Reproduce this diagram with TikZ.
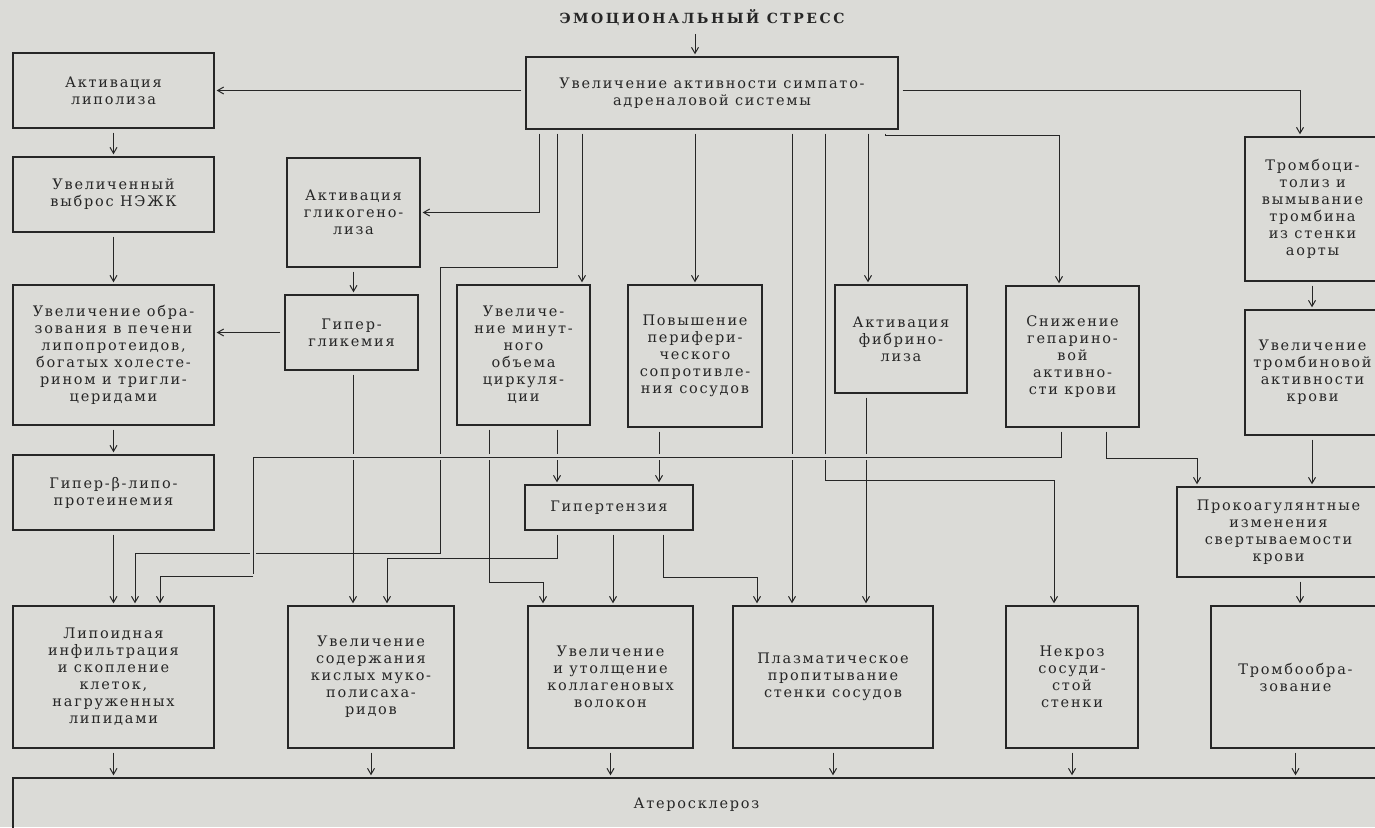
\documentclass[tikz,border=0pt]{standalone}
\usepackage{fontspec}
\setmainfont{DejaVu Serif}[LetterSpace=12]
\usetikzlibrary{arrows.meta}
\definecolor{paper}{RGB}{219,219,215}
\definecolor{ink}{RGB}{38,38,38}

\begin{document}
\begin{tikzpicture}[x=1pt,y=-1pt,color=ink,line width=1pt,
  >={Straight Barb[length=6pt,width=7pt]},shorten >=2pt,shorten <=4pt,
  block/.style={draw,line width=1.4pt,rectangle,align=center,inner sep=2pt,font=\fontsize{14.5}{17}\selectfont},
  hop/.style={preaction={draw=paper,line width=6pt}}]

  \fill[paper] (0,0) rectangle (1375,827);
  \useasboundingbox (0,0) rectangle (1375,827);

  \node[font=\fontsize{14}{16}\selectfont\bfseries\addfontfeature{LetterSpace=18}] (stress) at (702,18) {ЭМОЦИОНАЛЬНЫЙ СТРЕСС};
  \node[block, minimum width=372, minimum height=72] (symp) at (712,93) {Увеличение активности симпато-\\адреналовой системы};

  \node[block, minimum width=201, minimum height=75] (lipol) at (113.5,90.5) {Активация\\липолиза};
  \node[block, minimum width=201, minimum height=75] (nezhk) at (113.5,194.5) {Увеличенный\\выброс НЭЖК};
  \node[block, minimum width=201, minimum height=140] (liver) at (113.5,355) {Увеличение обра-\\зования в печени\\липопротеидов,\\богатых холесте-\\рином и тригли-\\церидами};
  \node[block, minimum width=201, minimum height=75] (hbeta) at (113.5,492.5) {Гипер-β-липо-\\протеинемия};
  \node[block, minimum width=133, minimum height=109] (glyco) at (353.5,212.5) {Активация\\гликогено-\\лиза};
  \node[block, minimum width=133, minimum height=75] (hyperg) at (351.5,332.5) {Гипер-\\гликемия};
  \node[block, minimum width=133, minimum height=140] (minute) at (523.5,355) {Увеличе-\\ние минут-\\ного\\объема\\циркуля-\\ции};
  \node[block, minimum width=134, minimum height=142] (periph) at (695,356) {Повышение\\перифери-\\ческого\\сопротивле-\\ния сосудов};
  \node[block, minimum width=132, minimum height=108] (fibrin) at (901,339) {Активация\\фибрино-\\лиза};
  \node[block, minimum width=133, minimum height=141] (hepar) at (1072.5,356.5) {Снижение\\гепарино-\\вой\\активно-\\сти крови};
  \node[block, minimum width=135, minimum height=144] (trcyt) at (1312.5,209) {Тромбоци-\\толиз и\\вымывание\\тромбина\\из стенки\\аорты};
  \node[block, minimum width=135, minimum height=125] (thromb) at (1312.5,372.5) {Увеличение\\тромбиновой\\активности\\крови};
  \node[block, minimum width=168, minimum height=45] (hypert) at (609,507.5) {Гипертензия};
  \node[block, minimum width=203, minimum height=90] (procoag) at (1278.5,532) {Прокоагулянтные\\изменения\\свертываемости\\крови};

  \node[block, minimum width=201, minimum height=142] (lipoid) at (113.5,677) {Липоидная\\инфильтрация\\и скопление\\клеток,\\нагруженных\\липидами};
  \node[block, minimum width=166, minimum height=142] (muco) at (371,677) {Увеличение\\содержания\\кислых муко-\\полисаха-\\ридов};
  \node[block, minimum width=165, minimum height=142] (collag) at (610.5,677) {Увеличение\\и утолщение\\коллагеновых\\волокон};
  \node[block, minimum width=200, minimum height=142] (plasma) at (833,677) {Плазматическое\\пропитывание\\стенки сосудов};
  \node[block, minimum width=132, minimum height=142] (necro) at (1072,677) {Некроз\\сосуди-\\стой\\стенки};
  \node[block, minimum width=169, minimum height=142] (trform) at (1295.5,677) {Тромбообра-\\зование};
  \node[block, minimum width=1367, minimum height=54] (ather) at (696.5,805) {Атеросклероз};

  % from the stress down
  \draw[->] (695,0 |- stress.south) -- (695,0 |- symp.north);
  \draw[->] (symp.west |- lipol.east) -- (lipol.east);
  \draw[->] (symp.east |- lipol.east) -| (1300,0 |- trcyt.north);
  \draw[->] (539,0 |- symp.south) |- (glyco.east);
  \draw[->] (557,0 |- symp.south) |- (440,267) -- (440,553) -| (135,0 |- lipoid.north);
  \draw[->] (582,0 |- symp.south) -- (582,0 |- minute.north);
  \draw[->] (695,0 |- symp.south) -- (periph.north);
  \draw[->] (792,0 |- symp.south) -- (792,0 |- plasma.north);
  \draw[->] (825,0 |- symp.south) -- (825,480) -| (1054,0 |- necro.north);
  \draw[->] (868,0 |- symp.south) -- (868,0 |- fibrin.north);
  \draw[->] (885,0 |- symp.south) |- (1059,135) -- (1059,0 |- hepar.north);

  % left column
  \draw[->] (lipol) -- (nezhk);
  \draw[->] (nezhk) -- (liver);
  \draw[->] (liver) -- (hbeta);
  \draw[->] (hbeta) -- (lipoid);
  \draw[->] (glyco.south) -- (glyco.south |- hyperg.north);
  \draw[->] (hyperg.west) -- (liver.east |- hyperg.west);
  \draw[->] (353,0 |- hyperg.south) -- (353,0 |- muco.north);

  % middle
  \draw[->] (489,0 |- minute.south) |- (543,582) -- (543,0 |- collag.north);
  \draw[->] (557,0 |- minute.south) -- (557,0 |- hypert.north);
  \draw[->] (659,0 |- periph.south) -- (659,0 |- hypert.north);
  \draw[->] (557,0 |- hypert.south) |- (387,558) -- (387,0 |- muco.north);
  \draw[->] (613,0 |- hypert.south) -- (613,0 |- collag.north);
  \draw[->] (663,0 |- hypert.south) |- (757,577) -- (757,0 |- plasma.north);
  \draw[->] (866,0 |- fibrin.south) -- (866,0 |- plasma.north);

  % right column
  \draw[->] (1106,0 |- hepar.south) |- (1197,458) -- (1197,0 |- procoag.north);
  \draw[->] (1312,0 |- trcyt.south) -- (1312,0 |- thromb.north);
  \draw[->] (1312,0 |- thromb.south) -- (1312,0 |- procoag.north);
  \draw[->] (1300,0 |- procoag.south) -- (1300,0 |- trform.north);

  % heparin line crosses the others
  \draw[hop] (1061,0 |- hepar.south) |- (253,457) -- (253,576) coordinate (bend);
  \draw[->,shorten <=0pt] (bend) -| (160,0 |- lipoid.north);

  \foreach \n in {lipoid,muco,collag,plasma,necro,trform}
    \draw[->] (\n) -- (\n |- ather.north);
\end{tikzpicture}
\end{document}
